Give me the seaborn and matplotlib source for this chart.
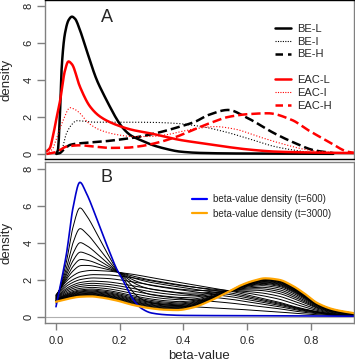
import numpy as np
import pandas as pd
import matplotlib
matplotlib.use("Agg")
import matplotlib.pyplot as plt
from matplotlib.lines import Line2D
import seaborn as sns

# ---------------- data ----------------
# Panel A: density curves
be_l_x = [0.0, 0.006, 0.012, 0.018, 0.028, 0.04, 0.05, 0.06, 0.075, 0.096, 0.128, 0.15, 0.169, 0.19, 0.21, 0.235, 0.264, 0.3, 0.34, 0.389, 0.45, 0.55, 0.7, 0.87]
be_l_y = [0.02, 0.2, 2.0, 4.7, 6.5, 7.25, 7.42, 7.3, 6.7, 5.6, 4.0, 3.2, 2.56, 1.9, 1.4, 1.0, 0.76, 0.5, 0.3, 0.13, 0.06, 0.03, 0.02, 0.01]
be_i_x = [0.0, 0.015, 0.033, 0.05, 0.065, 0.09, 0.12, 0.2, 0.3, 0.373, 0.45, 0.53, 0.6, 0.687, 0.75, 0.82, 0.87]
be_i_y = [0.0, 0.1, 1.12, 1.6, 1.8, 1.77, 1.72, 1.72, 1.71, 1.66, 1.5, 1.2, 0.85, 0.4, 0.2, 0.05, 0.02]
be_h_x = [0.0, 0.012, 0.025, 0.044, 0.07, 0.1, 0.138, 0.2, 0.264, 0.32, 0.389, 0.436, 0.477, 0.54, 0.6, 0.687, 0.75, 0.81, 0.87]
be_h_y = [0.0, 0.05, 0.25, 0.49, 0.57, 0.61, 0.66, 0.78, 0.94, 1.15, 1.48, 1.74, 2.1, 2.38, 1.95, 1.1, 0.59, 0.2, 0.05]
eac_l_x = [-0.04, -0.02, -0.008, 0.0, 0.013, 0.028, 0.039, 0.05, 0.075, 0.107, 0.14, 0.19, 0.24, 0.295, 0.389, 0.45, 0.53, 0.6, 0.687, 0.8, 0.95]
eac_l_y = [0.05, 0.3, 1.1, 1.8, 2.9, 4.5, 5.0, 4.85, 3.64, 2.56, 2.0, 1.57, 1.3, 1.12, 0.76, 0.6, 0.4, 0.25, 0.13, 0.08, 0.05]
eac_i_x = [-0.03, -0.01, 0.0, 0.023, 0.044, 0.06, 0.075, 0.1, 0.138, 0.19, 0.243, 0.3, 0.35, 0.389, 0.45, 0.5, 0.56, 0.635, 0.7, 0.79, 0.85, 0.95]
eac_i_y = [0.0, 0.3, 0.76, 1.84, 2.5, 2.4, 2.2, 1.7, 1.3, 1.05, 0.94, 0.95, 1.05, 1.2, 1.4, 1.48, 1.35, 0.94, 0.6, 0.22, 0.1, 0.03]
eac_h_x = [-0.03, 0.0, 0.033, 0.075, 0.12, 0.17, 0.22, 0.264, 0.32, 0.373, 0.43, 0.48, 0.54, 0.6, 0.665, 0.74, 0.79, 0.855, 0.916, 0.95]
eac_h_y = [0.0, 0.1, 0.4, 0.47, 0.4, 0.33, 0.34, 0.42, 0.62, 0.9, 1.3, 1.65, 2.0, 2.15, 2.2, 1.84, 1.3, 0.67, 0.12, 0.03]
labels_a = ["BE-L", "BE-I", "BE-H", "EAC-L", "EAC-I", "EAC-H"]

# Panel B: density at t=600 (blue), t=3000 (orange), an intermediate state,
# and the left-peak heights of the intermediate curves
t600_x = [0.0, 0.015, 0.033, 0.054, 0.075, 0.095, 0.128, 0.15, 0.17, 0.19, 0.21, 0.23, 0.248, 0.27, 0.3, 0.35, 0.4, 0.5, 0.6, 0.7, 0.8, 0.95]
t600_y = [0.54, 1.8, 3.43, 5.96, 7.28, 6.7, 5.3, 4.3, 3.43, 2.6, 1.98, 1.3, 0.8, 0.43, 0.2, 0.1, 0.07, 0.06, 0.05, 0.05, 0.04, 0.03]
t3000_x = [0.0, 0.04, 0.075, 0.11, 0.138, 0.19, 0.243, 0.3, 0.34, 0.38, 0.43, 0.477, 0.53, 0.58, 0.62, 0.656, 0.7, 0.74, 0.78, 0.82, 0.87, 0.95]
t3000_y = [0.81, 0.98, 1.08, 1.1, 1.05, 0.88, 0.63, 0.45, 0.38, 0.36, 0.5, 0.81, 1.25, 1.7, 1.95, 2.08, 2.0, 1.7, 1.25, 0.74, 0.4, 0.15]
mid_x = [0.0, 0.04, 0.08, 0.12, 0.16, 0.2, 0.25, 0.3, 0.35, 0.4, 0.45, 0.5, 0.55, 0.6, 0.65, 0.7, 0.75, 0.8, 0.85, 0.9, 0.95]
mid_y = [1.2, 2.0, 2.35, 2.45, 2.45, 2.4, 2.3, 2.15, 2.0, 1.85, 1.7, 1.55, 1.4, 1.2, 1.0, 0.8, 0.55, 0.35, 0.2, 0.1, 0.05]
inter_peaks = [5.89, 4.77, 4.01, 3.5, 3.1, 2.78, 2.51, 2.28, 2.1, 1.93, 1.81, 1.7, 1.59,
               1.5, 1.44, 1.39, 1.35, 1.31, 1.27, 1.24, 1.21, 1.18, 1.15, 1.12]
labels_b = ["beta-value density (t=600)", "beta-value density (t=3000)"]


# ---------------- helpers ----------------
def pchip(x, y, xq):
    x = np.asarray(x, float); y = np.asarray(y, float)
    h = np.diff(x); d = np.diff(y) / h
    n = len(x); m = np.zeros(n)
    for k in range(1, n - 1):
        if d[k - 1] * d[k] > 0:
            w1 = 2 * h[k] + h[k - 1]; w2 = h[k] + 2 * h[k - 1]
            m[k] = (w1 + w2) / (w1 / d[k - 1] + w2 / d[k])
    m[0] = d[0]; m[-1] = d[-1]
    xq = np.asarray(xq, float)
    idx = np.clip(np.searchsorted(x, xq) - 1, 0, n - 2)
    t = (xq - x[idx]) / h[idx]
    h00 = 2 * t**3 - 3 * t**2 + 1; h10 = t**3 - 2 * t**2 + t
    h01 = -2 * t**3 + 3 * t**2; h11 = t**3 - t**2
    return h00 * y[idx] + h10 * h[idx] * m[idx] + h01 * y[idx + 1] + h11 * h[idx] * m[idx + 1]


def smooth(x, y, n=400):
    xs = np.linspace(x[0], x[-1], n)
    return xs, np.maximum(pchip(x, y, xs), 0)


# ---------------- figure ----------------
sns.set_theme(style="white")
plt.rcParams['font.family'] = ['Liberation Sans', 'DejaVu Sans']
GREY = '#808080'

fig = plt.figure(figsize=(3.55, 3.63), dpi=100)
W, H = 355, 363
axA = fig.add_axes([45 / W, 1 - 159 / H, 309 / W, 159 / H])
axB = fig.add_axes([45 / W, 1 - 323 / H, 309 / W, 161 / H])

xlim = (-0.0345, 0.935)

# --- Panel A ---
axA.axhline(0, color='#b0b0b0', lw=0.8, zorder=0)
styles = [
    (be_l_x, be_l_y, 'black', '-', 1.8),
    (be_i_x, be_i_y, 'black', ':', 0.8),
    (be_h_x, be_h_y, 'black', '--', 1.8),
    (eac_l_x, eac_l_y, 'red', '-', 1.8),
    (eac_i_x, eac_i_y, 'red', ':', 0.8),
    (eac_h_x, eac_h_y, 'red', '--', 1.8),
]
handles = []
for (xx, yy, c, ls, lw), lab in zip(styles, labels_a):
    xs, ys = smooth(xx, yy)
    kw = dict(color=c, lw=lw, linestyle=ls)
    if ls == '--':
        kw['dashes'] = (3, 2)
    elif ls == ':':
        kw['dashes'] = (1, 1.2)
    sns.lineplot(x=xs, y=ys, ax=axA, estimator=None, sort=False, **kw)
    handles.append(Line2D([], [], **kw))

blank = Line2D([], [], color='none')
hA = handles[:3] + [blank] + handles[3:]
lA = labels_a[:3] + [''] + labels_a[3:]
axA.legend(hA, lA, loc='upper left', bbox_to_anchor=(0.744, 0.85), frameon=False,
           fontsize=8, handlelength=1.45, handletextpad=0.55, labelspacing=0.25,
           borderpad=0, borderaxespad=0)
axA.text(0.2, 0.89, "A", transform=axA.transAxes, fontsize=13, ha='center', va='center')

# --- Panel B ---
xg = np.linspace(0.0, 0.95, 400)
blue = pchip(t600_x, t600_y, xg)
mid = pchip(mid_x, mid_y, xg)
orng = pchip(t3000_x, t3000_y, xg)
left = xg < 0.3


def state(s):
    if s <= 1:
        return (1 - s) * blue + s * mid
    return (2 - s) * mid + (s - 1) * orng


rows = []
for i, p in enumerate(inter_peaks):
    lo, hi = 0.0, 2.0
    for _ in range(50):
        s = 0.5 * (lo + hi)
        if state(s)[left].max() > p:
            lo = s
        else:
            hi = s
    yv = np.maximum(state(0.5 * (lo + hi)), 0)
    rows.append(pd.DataFrame({'x': xg, 'y': yv, 'curve': i}))
dfB = pd.concat(rows, ignore_index=True)
axB.axhline(0, color='#b0b0b0', lw=0.8, zorder=0)
sns.lineplot(data=dfB, x='x', y='y', units='curve', estimator=None, sort=False,
             color='black', lw=0.7, ax=axB)
xs, ys = smooth(t600_x, t600_y)
sns.lineplot(x=xs, y=ys, ax=axB, estimator=None, sort=False, color='#0000cc', lw=1.2)
xs, ys = smooth(t3000_x, t3000_y)
sns.lineplot(x=xs, y=ys, ax=axB, estimator=None, sort=False, color='orange', lw=1.6)
hB = [Line2D([], [], color='blue', lw=1.6), Line2D([], [], color='orange', lw=1.6)]
axB.legend(hB, labels_b, loc='upper left', bbox_to_anchor=(0.476, 0.80), frameon=False,
           fontsize=7, handlelength=1.55, handletextpad=0.6, labelspacing=0.45,
           borderpad=0, borderaxespad=0)
axB.text(0.2, 0.905, "B", transform=axB.transAxes, fontsize=13, ha='center', va='center')

# --- axes styling ---
for ax, ylim in ((axA, (-0.27, 8.32)), (axB, (-0.34, 8.38))):
    ax.set_xlim(*xlim)
    ax.set_ylim(*ylim)
    ax.set_yticks([0, 2, 4, 6, 8])
    ax.set_yticklabels(['0', '2', '4', '6', '8'])
    ax.tick_params(axis='y', which='both', left=True, length=5.8, width=1.0, color=GREY,
                   pad=2.5, labelsize=8, labelrotation=90, labelcolor='#222222')
    for sp in ax.spines.values():
        sp.set_color(GREY)
        sp.set_linewidth(1.0)
    ax.set_ylabel("density", fontsize=9.5)
    ax.yaxis.set_label_coords(-0.105, 0.5)
    for lab in ax.get_yticklabels():
        lab.set_va('center')

axA.spines['top'].set_color('black')
axA.spines['bottom'].set_color('black')
axA.set_xticks([])
axA.set_xlabel("")

axB.set_xticks([0.0, 0.2, 0.4, 0.6, 0.8])
axB.set_xticklabels(['0.0', '0.2', '0.4', '0.6', '0.8'])
axB.tick_params(axis='x', bottom=True, length=5, width=1.0, color=GREY, pad=4,
                labelsize=8, labelcolor='#222222')
axB.set_xlabel("beta-value", fontsize=9.5)
axB.xaxis.set_label_coords(0.5, -0.165)

fig.savefig("out.png", dpi=100)
